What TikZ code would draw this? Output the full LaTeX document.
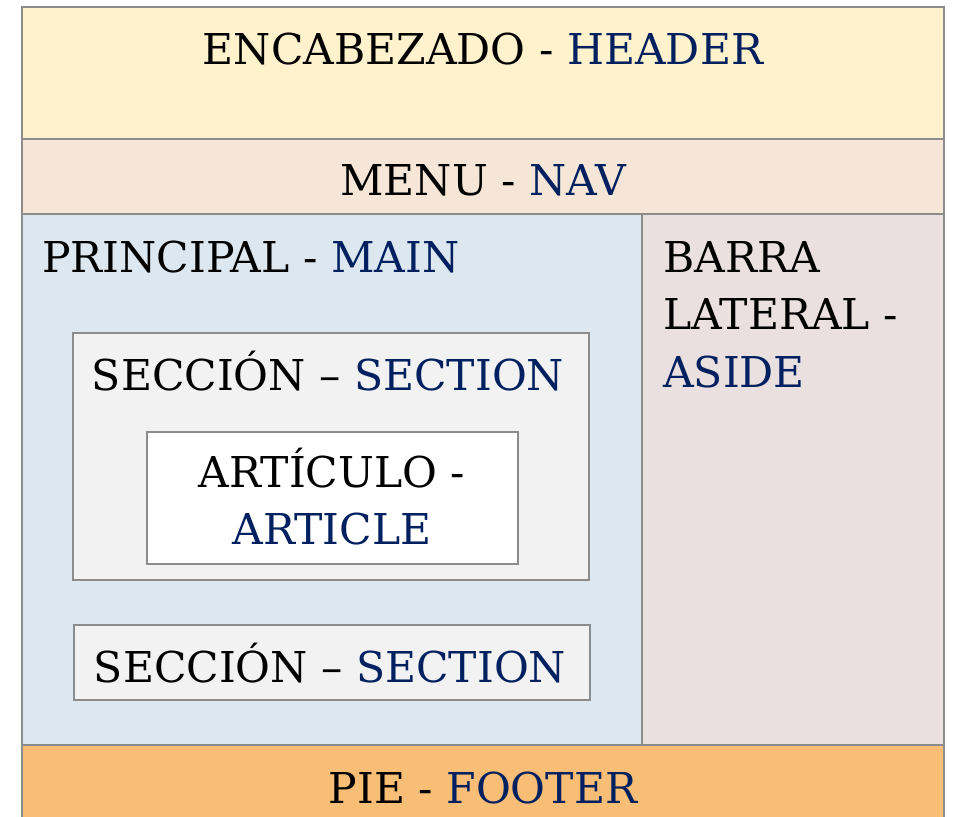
\documentclass[tikz,border=0pt]{standalone}
\usepackage{fontspec}
\setmainfont{DejaVu Serif}
\definecolor{hdr}{HTML}{FFF2CC}
\definecolor{navc}{HTML}{F5E6D7}
\definecolor{mainc}{HTML}{DCE7F0}
\definecolor{asidec}{HTML}{EAE0DF}
\definecolor{footc}{HTML}{F9BE75}
\definecolor{secc}{HTML}{F2F2F2}
\definecolor{edge}{HTML}{8C8C8C}
\definecolor{navy}{HTML}{002060}
\tikzset{
  region/.style={draw=edge, line width=2pt},
  lbl/.style={inner sep=0pt, font=\fontsize{42.5}{57}\selectfont, text=black},
}
\newcommand{\en}[1]{\textcolor{navy}{#1}}
\begin{document}
\begin{tikzpicture}[x=1pt,y=-1pt]
\useasboundingbox (0,0) rectangle (954,817);
\fill[white] (0,0) rectangle (954,817);
\path[region, fill=hdr] (22,7) rectangle (944,139);
\path[region, fill=navc] (22,139) rectangle (944,214);
\path[region, fill=mainc] (22,214) rectangle (642,745);
\path[region, fill=asidec] (642,214) rectangle (944,745);
\path[region, fill=footc] (22,745) rectangle (944,830);
\path[region, fill=secc] (73,333) rectangle (589,580);
\path[region, fill=white] (147,432) rectangle (518,564);
\path[region, fill=secc] (74,625) rectangle (590,700);

\node[lbl, anchor=base] (header) at (483,64) {ENCABEZADO - \en{HEADER}};
\node[lbl, anchor=base] (nav) at (483,195) {MENU - \en{NAV}};
\node[lbl, anchor=base west] (main) at (42,272) {PRINCIPAL - \en{MAIN}};
\node[lbl, anchor=base west] (aside1) at (663,272) {BARRA};
\node[lbl, anchor=base west] (aside2) at (663,329) {LATERAL -};
\node[lbl, anchor=base west] (aside3) at (663,387) {\en{ASIDE}};
\node[lbl, anchor=base] (sec1) at (328,390) {SECCIÓN – \en{SECTION}};
\node[lbl, anchor=base] (art1) at (332,487) {ARTÍCULO -};
\node[lbl, anchor=base] (art2) at (332,544) {\en{ARTICLE}};
\node[lbl, anchor=base] (sec2) at (330,682) {SECCIÓN – \en{SECTION}};
\node[lbl, anchor=base] (foot) at (483,803) {PIE - \en{FOOTER}};
\end{tikzpicture}
\end{document}
